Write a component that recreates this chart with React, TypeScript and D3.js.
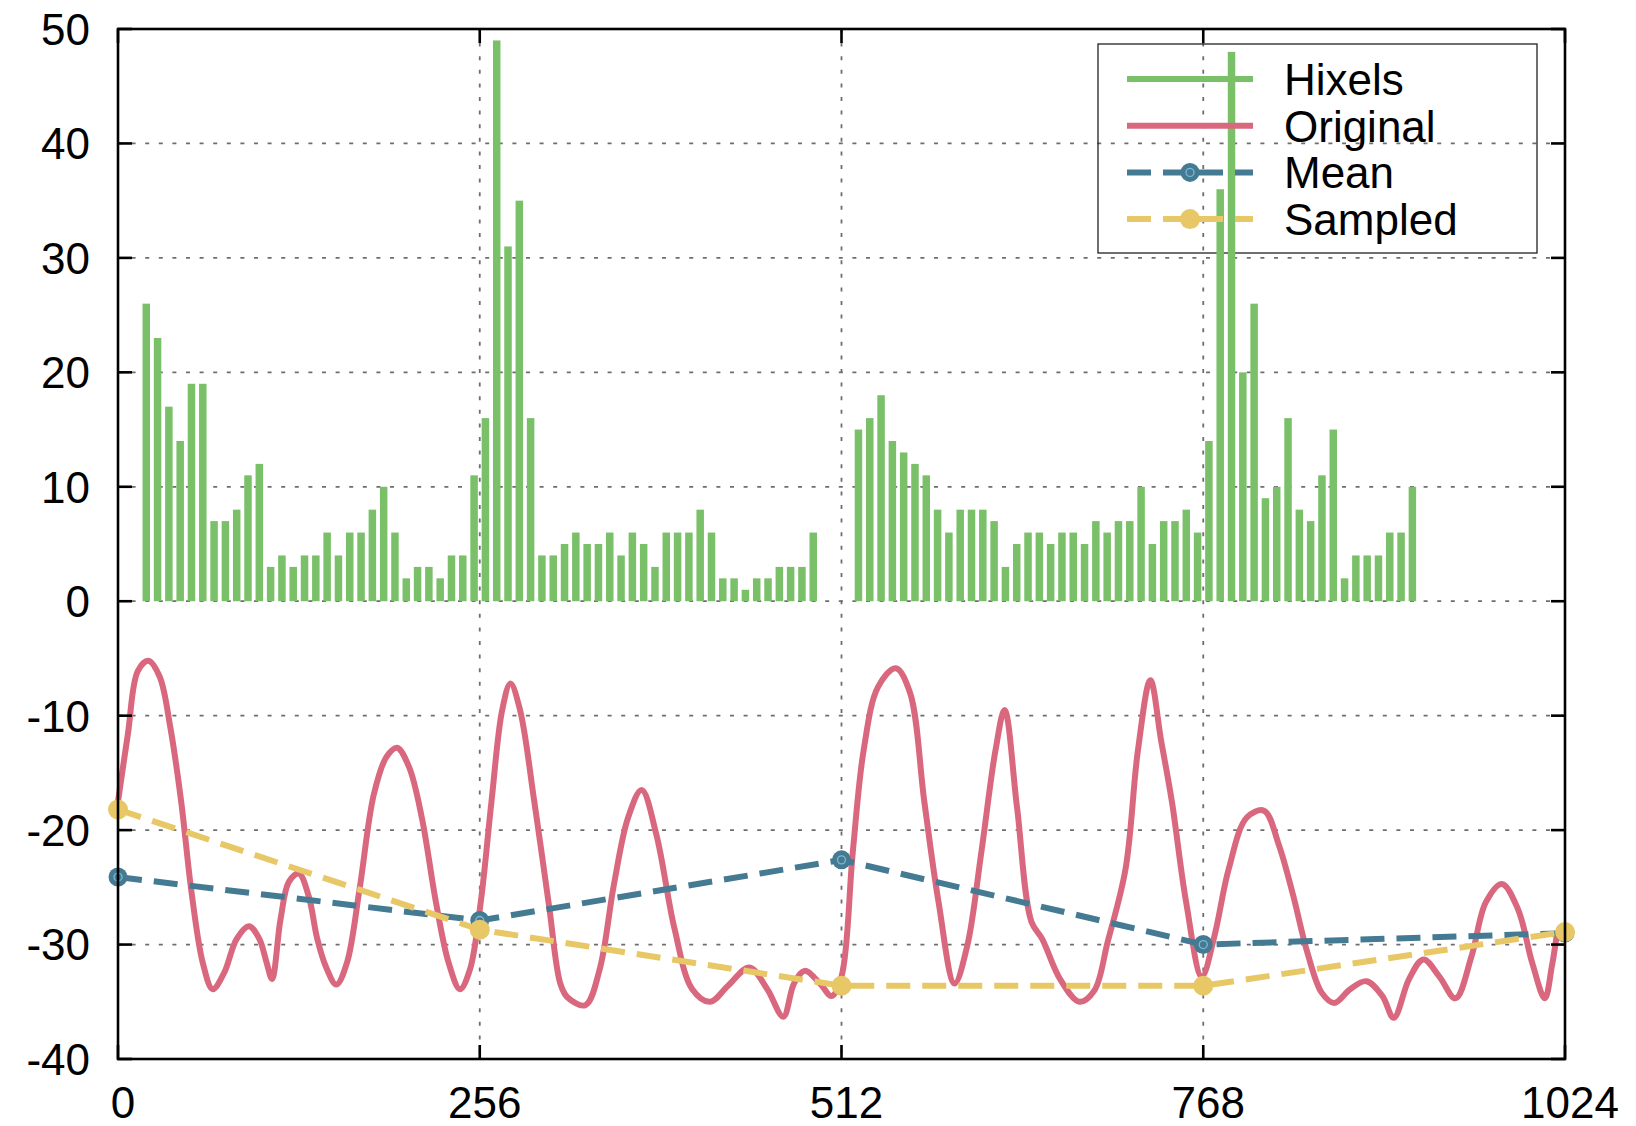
import React from 'react';
import * as d3 from 'd3';

const WIDTH = 1636;
const HEIGHT = 1126;

// Histogram of hixel counts, one value per 8-wide bin (bin centres at 4, 12, 20, ...)
const BIN_WIDTH = 8;
const hixelCounts = [
  0, 0,
  26, 23, 17, 14, 19, 19, 7, 7, 8, 11,
  12, 3, 4, 3, 4, 4, 6, 4, 6, 6,
  8, 10, 6, 2, 3, 3, 2, 4, 4, 11,
  16, 49, 31, 35, 16, 4, 4, 5, 6, 5,
  5, 6, 4, 6, 5, 3, 6, 6, 6, 8,
  6, 2, 2, 1, 2, 2, 3, 3, 3, 6,
  0, 0, 0,
  15, 16, 18, 14, 13, 12, 11, 8, 6, 8,
  8, 8, 7, 3, 5, 6, 6, 5, 6, 6,
  5, 7, 6, 7, 7, 10, 5, 7, 7, 8,
  6, 14, 36, 48, 20, 26, 9, 10, 16, 8,
  7, 11, 15, 2, 4, 4, 4, 6, 6, 10,
  0, 0, 0, 0, 0, 0, 0, 0, 0, 0, 0, 0, 0,
];

// Original signal
const originalX = [
  0, 7, 14, 21.5, 29.5, 37, 44.7, 52, 60, 67, 75, 84, 92.7, 100, 105, 109, 115, 121, 128, 135,
  141, 147, 154.5, 162, 171, 181, 190, 197.5, 206, 215, 225, 234, 242, 249, 256.7, 264.3, 271.9, 277.7, 284.5, 294.6,
  305, 313, 318, 330.7, 340.8, 350.9, 361, 370.6, 381, 393.8, 406.4, 419, 431.7, 446.8, 459.5, 470.8, 478.4, 486, 497.4, 505,
  512, 520, 527.7, 537.8, 550.4, 560.5, 570.6, 580.7, 592, 601, 611, 621, 627.4, 636.2, 646.4, 654, 666.6, 680.4, 691, 700.3,
  713, 721.8, 730.6, 738.2, 745.8, 755.9, 767, 776, 786, 798.8, 811, 821.5, 831.6, 841.7, 851.8, 860.7, 872, 883.4, 894.8, 902.8,
  913.7, 923.8, 935.1, 946.5, 957.9, 968, 979.4, 990.7, 1000.8, 1009.7, 1014.7, 1018.5,
];
const originalY = [
  -17.5, -11.6, -6.1, -5.2, -6.6, -11, -17.5, -25.4, -31.6, -33.9, -32.5, -29.5, -28.4, -29.5, -31.5, -33, -27.8, -24.5, -23.8, -25.8,
  -29.5, -31.9, -33.5, -31.6, -25.1, -16.9, -13.6, -12.8, -14.5, -18.9, -26.3, -31.6, -33.9, -32.2, -26.3, -17.5, -9.5, -7.2, -9.5, -17.5,
  -26.6, -33.4, -34.6, -35.3, -32.2, -24.8, -18.9, -16.5, -20.4, -28.6, -33.9, -35, -33.6, -32, -33.9, -36.3, -33.4, -32.3, -33.5, -34.5,
  -32.8, -21.9, -13, -7.5, -5.85, -8, -17.5, -26.3, -33.4, -30.1, -21.9, -13, -9.5, -18, -28, -29.5, -33, -35, -34, -29.8,
  -23.4, -13, -6.9, -12.2, -17.5, -26.3, -32.8, -29.2, -23.4, -18.9, -18.3, -21.3, -25.7, -30.7, -34.2, -35.1, -33.9, -33.2, -34.5, -36.4,
  -33, -31.3, -32.8, -34.7, -31, -26.3, -24.7, -26.9, -31.6, -34.7, -31.9, -28.9,
];

// Reduced representations at the block boundaries
const blockX = [0, 256, 512, 768, 1024];
const meanY = [-24.1, -27.9, -22.6, -30.0, -29.0];
const sampledY = [-18.2, -28.7, -33.6, -33.6, -28.9];

const xTicks = [0, 256, 512, 768, 1024];
const yTicks = [-40, -30, -20, -10, 0, 10, 20, 30, 40, 50];
const legendLabels = ['Hixels', 'Original', 'Mean', 'Sampled'];

const GREEN = '#79c068';
const RED = '#d9687f';
const BLUE = '#457a93';
const YELLOW = '#e8c766';
const FONT = '"Liberation Sans", Arial, Helvetica, sans-serif';

const LEFT = 118;
const RIGHT = 1565;
const TOP = 29;
const BOTTOM = 1059;

export default function App() {
  const x = d3.scaleLinear().domain([0, 1024]).range([LEFT, RIGHT]);
  const y = d3.scaleLinear().domain([-40, 50]).range([BOTTOM, TOP]);

  const barHalf = (x(5.3) - x(0)) / 2;
  const bars = hixelCounts
    .map((v, i) => ({ pos: i * BIN_WIDTH + BIN_WIDTH / 2, v }))
    .filter((d) => d.v > 0);

  const original = originalX.map((v, i) => [v, originalY[i]] as [number, number]);
  const mean = blockX.map((v, i) => [v, meanY[i]] as [number, number]);
  const sampled = blockX.map((v, i) => [v, sampledY[i]] as [number, number]);

  const smooth = d3
    .line<[number, number]>()
    .x((d) => x(d[0]))
    .y((d) => y(d[1]))
    .curve(d3.curveCatmullRom.alpha(0.5));
  const straight = d3
    .line<[number, number]>()
    .x((d) => x(d[0]))
    .y((d) => y(d[1]));

  const gridDash = '4,9.6';
  const tickLen = 14;
  const lw = 6;
  const dash = '24,12';

  // legend geometry
  const lgX = 1098;
  const lgY = 44;
  const lgW = 439;
  const lgH = 209;
  const rowY = (i: number) => 79 + i * 46.7;
  const sx0 = 1127;
  const sx1 = 1253;
  const sxm = 1190;
  const textX = 1284;

  const meanMarker = (cx: number, cy: number, key?: string) => (
    <g key={key}>
      <circle cx={cx} cy={cy} r={9.5} fill={BLUE} />
      <circle cx={cx} cy={cy} r={4} fill="none" stroke="#7cb8d6" strokeWidth={1.3} />
    </g>
  );
  const sampledMarker = (cx: number, cy: number, key?: string) => (
    <circle key={key} cx={cx} cy={cy} r={10} fill={YELLOW} />
  );

  return (
    <svg
      width={WIDTH}
      height={HEIGHT}
      style={{ position: 'absolute', left: 0, top: 0, background: '#fff', display: 'block' }}
      fontFamily={FONT}
    >
      <rect x={0} y={0} width={WIDTH} height={HEIGHT} fill="#fff" />

      {/* grid */}
      <g stroke="#6e6e6e" strokeWidth={1.8} strokeDasharray={gridDash}>
        {yTicks
          .filter((t) => t !== -40 && t !== 50)
          .map((t) => (
            <line key={`gy${t}`} x1={LEFT} x2={RIGHT} y1={y(t)} y2={y(t)} />
          ))}
        {xTicks
          .filter((t) => t !== 0 && t !== 1024)
          .map((t) => (
            <line key={`gx${t}`} x1={x(t)} x2={x(t)} y1={TOP} y2={BOTTOM} />
          ))}
      </g>

      {/* legend frame and labels */}
      <rect x={lgX} y={lgY} width={lgW} height={lgH} fill="none" stroke="#222" strokeWidth={1.3} />
      {legendLabels.map((lab, i) => (
        <text key={lab} x={textX} y={rowY(i) + 16} fontSize={44} fill="#000">
          {lab}
        </text>
      ))}

      {/* Hixels */}
      <line x1={sx0} x2={sx1} y1={rowY(0)} y2={rowY(0)} stroke={GREEN} strokeWidth={lw} />
      <g fill={GREEN}>
        {bars.map((d) => (
          <rect
            key={`b${d.pos}`}
            x={x(d.pos) - barHalf}
            width={barHalf * 2}
            y={y(d.v)}
            height={y(0) - y(d.v)}
          />
        ))}
      </g>

      {/* Original */}
      <line x1={sx0} x2={sx1} y1={rowY(1)} y2={rowY(1)} stroke={RED} strokeWidth={lw} />
      <path d={smooth(original) ?? ''} fill="none" stroke={RED} strokeWidth={lw} strokeLinejoin="round" />

      {/* Mean */}
      <line x1={sx0} x2={sx1} y1={rowY(2)} y2={rowY(2)} stroke={BLUE} strokeWidth={lw} strokeDasharray={dash} />
      {meanMarker(sxm, rowY(2))}
      <path d={straight(mean) ?? ''} fill="none" stroke={BLUE} strokeWidth={lw} strokeDasharray={dash} />
      {mean.map((d, i) => meanMarker(x(d[0]), y(d[1]), `m${i}`))}

      {/* Sampled */}
      <line x1={sx0} x2={sx1} y1={rowY(3)} y2={rowY(3)} stroke={YELLOW} strokeWidth={lw} strokeDasharray={dash} />
      {sampledMarker(sxm, rowY(3))}
      <path d={straight(sampled) ?? ''} fill="none" stroke={YELLOW} strokeWidth={lw} strokeDasharray={dash} />
      {sampled.map((d, i) => sampledMarker(x(d[0]), y(d[1]), `s${i}`))}

      {/* frame and ticks */}
      <rect x={LEFT} y={TOP} width={RIGHT - LEFT} height={BOTTOM - TOP} fill="none" stroke="#000" strokeWidth={2.6} />
      <g stroke="#000" strokeWidth={2.6}>
        {yTicks.map((t) => (
          <g key={`ty${t}`}>
            <line x1={LEFT} x2={LEFT + tickLen} y1={y(t)} y2={y(t)} />
            <line x1={RIGHT} x2={RIGHT - tickLen} y1={y(t)} y2={y(t)} />
          </g>
        ))}
        {xTicks.map((t) => (
          <g key={`tx${t}`}>
            <line x1={x(t)} x2={x(t)} y1={BOTTOM} y2={BOTTOM - tickLen} />
            <line x1={x(t)} x2={x(t)} y1={TOP} y2={TOP + tickLen} />
          </g>
        ))}
      </g>

      {/* tick labels */}
      <g fontSize={44} fill="#000">
        {yTicks.map((t) => (
          <text key={`ly${t}`} x={90} y={y(t)} dy="0.36em" textAnchor="end">
            {t}
          </text>
        ))}
        {xTicks.map((t) => (
          <text key={`lx${t}`} x={x(t) + 5} y={1118} textAnchor="middle">
            {t}
          </text>
        ))}
      </g>
    </svg>
  );
}
